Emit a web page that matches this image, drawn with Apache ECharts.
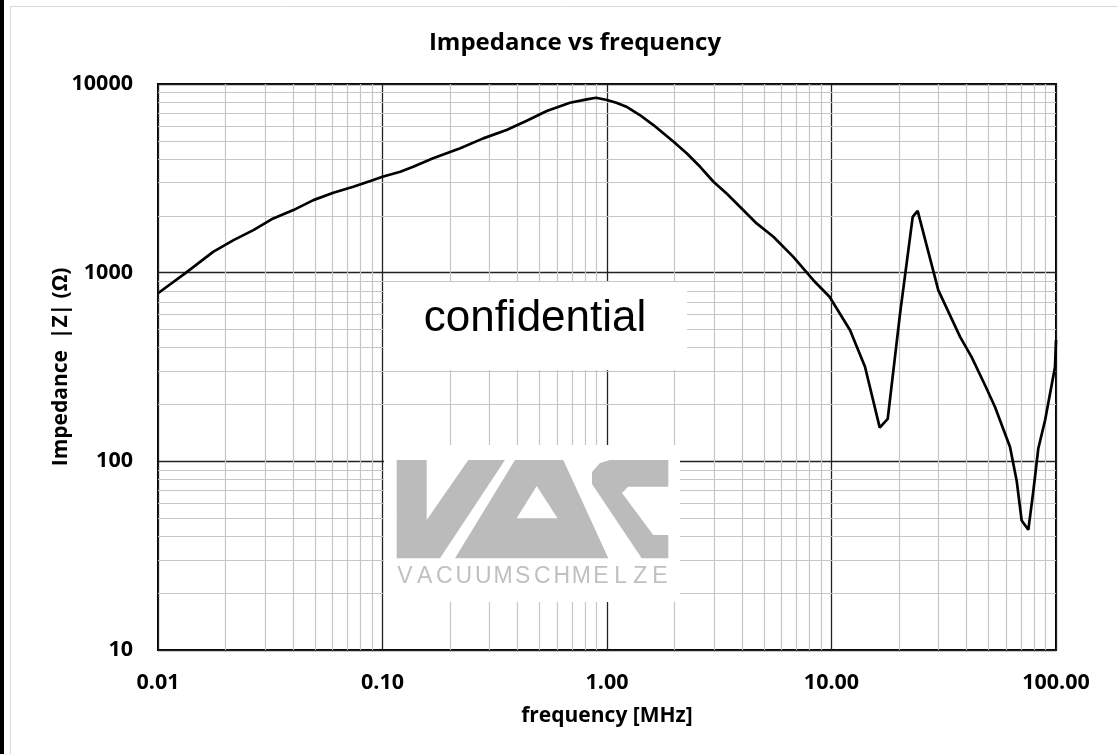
<!DOCTYPE html>
<html>
<head>
<meta charset="utf-8">
<title>Impedance vs frequency</title>
<script src="https://cdn.jsdelivr.net/npm/echarts@6/dist/echarts.min.js"></script>
<style>
  html, body { margin: 0; padding: 0; background: #fff; }
  #chart { width: 1118px; height: 754px; }
</style>
</head>
<body>
<div id="chart"></div>
<script>
const freqMHz = [0.01, 0.0132, 0.0176, 0.0217, 0.0266, 0.0326, 0.0401, 0.0492, 0.0604, 0.0741,
  0.091, 0.1, 0.12, 0.137, 0.168, 0.222, 0.281, 0.357, 0.439, 0.539,
  0.684, 0.812, 0.893, 1.0, 1.1, 1.22, 1.4, 1.61, 1.98, 2.27,
  2.6, 2.98, 3.41, 3.91, 4.64, 5.51, 6.76, 8.3, 9.8, 12.1,
  14.1, 16.4, 17.8, 20.2, 23.0, 24.2, 29.9, 37.4, 42.1, 48.3,
  53.5, 62.4, 66.8, 70.3, 75.3, 79.3, 83.4, 89.4, 99, 100]
const impedance = [778, 991, 1289, 1487, 1681, 1938, 2146, 2424, 2652, 2853,
  3096, 3224, 3427, 3641, 4036, 4560, 5150, 5700, 6386, 7193,
  7958, 8295, 8459, 8225, 7960, 7579, 6847, 6060, 4943, 4285,
  3641, 3033, 2630, 2234, 1824, 1549, 1213, 912, 745, 495,
  317, 151, 168, 607, 1977, 2128, 808, 457, 357, 253,
  194, 119, 79, 48.6, 43.4, 70, 117, 165, 316, 440]

// axis decades and minor log grid (2..9 in every decade)
const xDecades = [0.01, 0.1, 1, 10]
const yDecades = [10, 100, 1000]
const minorSteps = [2, 3, 4, 5, 6, 7, 8, 9]

const minorX = []
xDecades.forEach(d => minorSteps.forEach(m => minorX.push(+(d * m).toPrecision(3))))
const minorY = []
yDecades.forEach(d => minorSteps.forEach(m => minorY.push(d * m)))

const labelFont = {fontFamily: 'Open Sans', fontWeight: 'bold', fontSize: 21.5, color: '#000'}
const nameFont = {fontFamily: 'Open Sans', fontWeight: 'bold', fontSize: 21, color: '#000'}
const grey = '#bbbbbb'

function logoText() {
  const word = 'VACUUMSCHMELZE'
  return word.split('').map((ch, i) => ({
    type: 'text', z: 102,
    style: {text: ch, x: 405 + i * 19.6, y: 577, fill: '#c0c0c0',
      font: '23px "Liberation Sans"', textAlign: 'center', textVerticalAlign: 'middle'}
  }))
}

const chart = echarts.init(document.getElementById('chart'))
const option = {
  animation: false,
  backgroundColor: '#fff',
  title: {
    text: 'Impedance vs frequency',
    left: 570, top: 26, textAlign: 'center',
    textStyle: {fontFamily: 'Open Sans', fontWeight: 'bold', fontSize: 24, color: '#000'}
  },
  grid: {
    left: 158, right: 62, top: 84, bottom: 104,
    show: true, borderColor: '#000', borderWidth: 2, backgroundColor: 'transparent'
  },
  xAxis: {
    type: 'log', logBase: 10, min: 0.01, max: 100,
    name: 'frequency [MHz]', nameLocation: 'middle', nameGap: 56,
    nameTextStyle: nameFont,
    axisLine: {show: false}, axisTick: {show: false},
    axisLabel: Object.assign({margin: 22, formatter: v => Number(v).toFixed(2)}, labelFont),
    splitLine: {show: true, lineStyle: {color: '#222', width: 1.3}}
  },
  yAxis: {
    type: 'log', logBase: 10, min: 10, max: 10000,
    name: 'Impedance  |Z| (Ω)', nameLocation: 'middle', nameGap: 86, nameRotate: 90,
    nameMoveOverlap: false,
    nameTextStyle: nameFont,
    axisLine: {show: false}, axisTick: {show: false},
    axisLabel: Object.assign({margin: 25, formatter: v => String(Math.round(v))}, labelFont),
    splitLine: {show: true, lineStyle: {color: '#222', width: 1.3}}
  },
  series: [
    {
      // carries the minor grid only
      type: 'line', data: [], silent: true, z: 1,
      markLine: {
        silent: true, symbol: ['none', 'none'], label: {show: false},
        lineStyle: {color: '#c6c6c6', width: 1.2, type: 'solid'},
        emphasis: {disabled: true},
        data: minorX.map(v => ({xAxis: v})).concat(minorY.map(v => ({yAxis: v})))
      }
    },
    {
      type: 'line', z: 5,
      showSymbol: false, smooth: false,
      lineStyle: {color: '#000', width: 2.7},
      data: freqMHz.map((f, i) => [f, impedance[i]])
    }
  ],
  graphic: {
    elements: [
      {type: 'rect', z: 100, shape: {x: 0, y: 0, width: 4, height: 754}, style: {fill: '#000'}},
      {type: 'rect', z: 0, silent: true, shape: {x: 10.5, y: 6.5, width: 1200, height: 800},
        style: {fill: null, stroke: '#d9d9d9', lineWidth: 1}},
      // watermark boxes
      {type: 'rect', z: 100, shape: {x: 384, y: 282, width: 303, height: 88}, style: {fill: '#fff'}},
      {type: 'text', z: 101, style: {text: 'confidential', x: 535, y: 319, fill: '#000',
        font: '44px "Liberation Sans"', textAlign: 'center', textVerticalAlign: 'middle'}},
      {type: 'rect', z: 100, shape: {x: 384, y: 445, width: 296, height: 157}, style: {fill: '#fff'}},
      {type: 'polygon', z: 101, shape: {points: [[396.7, 460], [426.7, 460], [426.7, 520], [468.3, 460],
        [505, 460], [440, 558.3], [396.7, 558.3]]}, style: {fill: grey}},
      {type: 'polygon', z: 101, shape: {points: [[455, 558.3], [515, 460], [563.3, 460], [608.3, 558.3]]},
        style: {fill: grey}},
      {type: 'polygon', z: 102, shape: {points: [[516.7, 518.3], [536.7, 486], [557.5, 518.3]]},
        style: {fill: '#fff'}},
      {type: 'polygon', z: 101, shape: {points: [[610, 460], [668.3, 460], [668.3, 486.7], [628, 486.7],
        [622, 493], [653.3, 535], [668.3, 535], [668.3, 558.3], [641.7, 558.3], [592, 484],
        [592, 472], [600, 463]]}, style: {fill: grey}}
    ].concat(logoText())
  }
}
chart.setOption(option)
window.addEventListener('resize', function () {
  chart.resize()
})
</script>
</body>
</html>
